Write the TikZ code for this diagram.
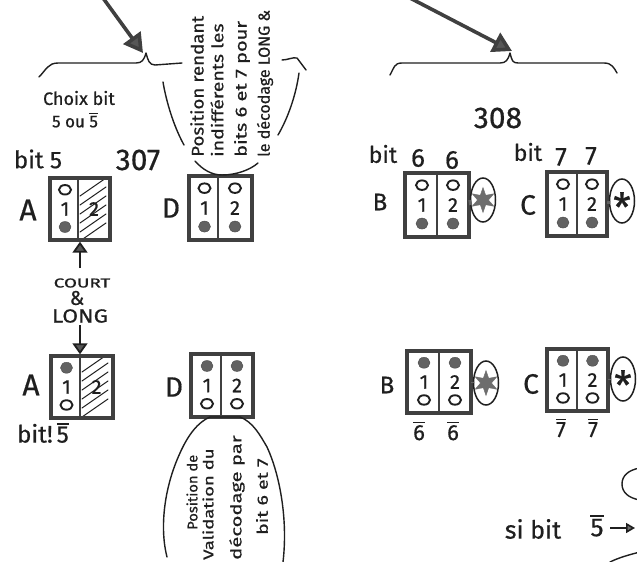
\documentclass[tikz,border=0pt]{standalone}
\usepackage{fontspec}
\setmainfont{Fira Sans}[FakeBold=0.6]
\usetikzlibrary{shapes.geometric,arrows.meta,calc}
\definecolor{ink}{gray}{0.12}
\newcommand\ovl[1]{\leavevmode\vbox{\hrule height 1.4pt \kern 2pt \hbox{#1}}}
\newif\ifhatched
\tikzset{
  x=1pt,y=-1pt,
  ink line/.style={draw=ink,line width=1.4pt,line cap=round,line join=round},
  hand/.style={text=ink,inner sep=0pt,font=\fontsize{#1}{#1}\selectfont},
  hand/.default=15,
  vtext/.style={text=ink,inner sep=0pt,rotate=90,anchor=west,font=\fontsize{#1}{#1}\selectfont},
  vtext/.default=15,
  swbox/.style={draw=ink!85,line width=3.4pt,inner sep=0pt},
  bigarrow/.style={draw=ink!85,line width=3.6pt,-{Triangle[length=19pt,width=21pt,fill=ink!75]}},
  oval/.style={ellipse,draw=ink,line width=1.5pt,inner sep=0pt,minimum width=25pt,minimum height=44pt},
  blob/.style={star,star points=6,star point ratio=2.3,fill=ink!65,draw=ink!65,inner sep=0pt,minimum size=25pt},
  openmark/.style={ellipse,draw=ink,line width=1.9pt,inner sep=0pt,minimum width=12pt,minimum height=9.5pt},
  fullmark/.style={ellipse,fill=ink!70,draw=ink!80,inner sep=0pt,minimum width=12pt,minimum height=11pt},
  hatchline/.style={draw=ink,line width=1pt,line cap=round},
}
% name, x1, y1, x2, y2, divider x, top mark style, bottom mark style
\newcommand\switchbox[8]{%
  \pgfmathsetmacro\ccx{(#2+#4)/2}\pgfmathsetmacro\ccy{(#3+#5)/2}%
  \pgfmathsetmacro\ww{#4-#2}\pgfmathsetmacro\hh{#5-#3}%
  \pgfmathsetmacro\colL{(#2+#6)/2+1}\pgfmathsetmacro\colR{(#6+#4)/2}%
  \pgfmathsetmacro\rowT{#3+0.19*\hh}\pgfmathsetmacro\rowB{#5-0.21*\hh}%
  \node[swbox,minimum width=\ww pt,minimum height=\hh pt] (#1) at (\ccx,\ccy) {};
  \draw[draw=ink!85,line width=2.6pt] (#6,#3) -- (#6,#5);
  \node[hand=20] (#1d1) at (\colL,\ccy) {1};
  \node[hand=20] (#1d2) at (\colR,\ccy) {2};
  \node[#7] (#1ta) at (\colL,\rowT) {};
  \node[#8] (#1ba) at (\colL,\rowB) {};
  \ifhatched\else
    \node[#7] (#1tb) at (\colR,\rowT) {};
    \node[#8] (#1bb) at (\colR,\rowB) {};
  \fi
}
\begin{document}
\begin{tikzpicture}
\useasboundingbox (0,0) rectangle (637,562);
\clip (0,0) rectangle (637,562);
\fill[white] (0,0) rectangle (637,562);

% hatching of the A boxes
\begin{scope}
\clip (79,179) rectangle (109,239);
\foreach \k in {0,...,5} {
  \draw[hatchline] (80,{196+\k*9}) -- (106,{178+\k*9});
}
\end{scope}
\begin{scope}
\clip (81,357) rectangle (112,416);
\foreach \k in {0,...,5} {
  \draw[hatchline] (82,{372+\k*9}) -- (108,{354+\k*9});
}
\end{scope}

% switch boxes
\hatchedtrue
\switchbox{At}{50}{178}{110}{240}{78}{openmark}{fullmark}
\switchbox{Ab}{51}{356}{113}{418}{80}{fullmark}{openmark}
\hatchedfalse
\switchbox{Dt}{189}{176}{252}{240}{218}{openmark}{fullmark}
\switchbox{Db}{191}{354}{253}{417}{221}{fullmark}{openmark}
\switchbox{Bt}{405}{173}{469}{237}{437}{openmark}{fullmark}
\switchbox{Ct}{547}{172}{607}{236}{577}{openmark}{fullmark}
\switchbox{Bb}{407}{351}{471}{413}{439}{fullmark}{openmark}
\switchbox{Cb}{547}{349}{608}{411}{577}{fullmark}{openmark}

% ovals with stars
\node[oval] (Btov) at (483,200) {};
\node[blob] (Btst) at (483,200) {};
\node[oval] (Ctov) at (622,201) {};
\node[hand=40] (Ctst) at (622,207) {*};
\node[oval] (Bbov) at (486,383) {};
\node[blob] (Bbst) at (486,383) {};
\node[oval] (Cbov) at (623,379) {};
\node[hand=40] (Cbst) at (623,385) {*};
\draw[draw=ink!70,line width=3pt] (Bt.east) -- (Btov.west);
\draw[draw=ink!70,line width=3pt] (Ct.east) -- (Ctov.west);
\draw[draw=ink!70,line width=3pt] (Bb.east) -- (Bbov.west);
\draw[draw=ink!70,line width=3pt] (Cb.east) -- (Cbov.west);

% braces and big arrows
\draw[ink line] (39,77) .. controls (46,70) and (48,63) .. (58,63) -- (136,63) .. controls (142,63) and (144,60) .. (146,53) .. controls (148,60) and (149,65) .. (155,65) -- (182,63);
\draw[ink line] (390,75) .. controls (394,68) and (394,63) .. (402,63) -- (500,63) .. controls (506,63) and (508,60) .. (510,53) .. controls (512,60) and (512,63) .. (518,63) -- (604,63) .. controls (612,63) and (614,68) .. (617,73);
\coordinate (a1s) at (103,-2); \coordinate (a1e) at (143,53);
\coordinate (a2s) at (410,-2); \coordinate (a2e) at (512,51);
\draw[bigarrow] (a1s) -- (a1e);
\draw[bigarrow] (a2s) -- (a2e);

% top shape around the "position" text
\draw[ink line] (163,82) .. controls (166,100) and (173,125) .. (184,145);
\draw[ink line] (195,161) .. controls (203,170) and (212,175) .. (222,175) .. controls (236,175) and (250,170) .. (258,163);
\draw[ink line] (278,135) .. controls (288,118) and (296,95) .. (299,73);
\draw[ink line] (282,60) .. controls (288,60) and (292,57) .. (297,58) .. controls (300,62) and (303,66) .. (306,70);

% bottom oval
\draw[ink line] (167,557) .. controls (160,530) and (163,490) .. (180,453) .. controls (188,435) and (198,422) .. (210,417) -- (240,417) .. controls (253,422) and (260,435) .. (267,447) .. controls (280,475) and (288,520) .. (283,562);

% small arrows
\coordinate (ct) at (80,268);
\draw[draw=ink,line width=1.8pt,-{Triangle[length=11pt,width=15pt,fill=ink!75]}] (ct) -- (At.south -| ct);
\coordinate (lb) at (80,325);
\draw[draw=ink,line width=1.8pt,-{Triangle[length=11pt,width=15pt,fill=ink!75]}] (lb) -- (Ab.north -| lb);
\coordinate (s5a) at (610,528); \coordinate (s5b) at (635,528);
\draw[draw=ink,line width=1.6pt,-{Triangle[length=9pt,width=10pt,fill=ink!65]}] (s5a) -- (s5b);

% partial shapes on the right edge
\draw[ink line] (640,468) .. controls (628,470) and (622,476) .. (622,484) .. controls (622,492) and (628,498) .. (640,500);
\draw[ink line] (610,562) .. controls (618,558) and (628,555) .. (640,552);

% labels left
\node[hand=18] (choix) at (79,98) {Choix bit};
\node[hand=17] (cinq) at (75,120) {5 ou \ovl{5}};
\node[hand=24] (bit5) at (38,159) {bit 5};
\node[hand=30] (n307) at (138,160) {307};
\node[hand=30] (lA1) at (28,210) {A};
\node[hand=28] (lD1) at (171,208) {D};
\node[hand=13] (court) at (82,283) {\scalebox{1.45}[1]{COURT}};
\node[hand=20] (et) at (77,298) {\&};
\node[hand=19] (long) at (80,316) {\scalebox{1.2}[1]{LONG}};
\node[hand=30] (lA2) at (31,385) {A};
\node[hand=28] (lD2) at (174,387) {D};
\node[hand=24] (bit5b) at (43,433) {bit!\,\ovl{5}};

% labels right
\node[hand=30] (n308) at (498,118) {308};
\node[hand=23] (bit6) at (383,154) {bit};
\node[hand=26] (six1) at (418,158) {6};
\node[hand=26] (six2) at (452,160) {6};
\node[hand=23] (bit7) at (528,152) {bit};
\node[hand=26] (sept1) at (561,157) {7};
\node[hand=26] (sept2) at (591,156) {7};
\node[hand=24] (lB1) at (380,202) {B};
\node[hand=28] (lC1) at (528,205) {C};
\node[hand=24] (lB2) at (387,385) {B};
\node[hand=28] (lC2) at (531,384) {C};
\node[hand=22] (ns1) at (419,431) {\ovl{6}};
\node[hand=22] (ns2) at (453,431) {\ovl{6}};
\node[hand=22] (ns3) at (561,428) {\ovl{7}};
\node[hand=22] (ns4) at (593,428) {\ovl{7}};
\node[hand=25] (sibit) at (533,529) {si bit};
\node[hand=26] (ns5) at (597,526) {\ovl{5}};

% rotated texts, top
\node[vtext=17] (p1) at (197,157) {\scalebox{1.1}[1]{Position rendant}};
\node[vtext=16] (p2) at (217,157) {\scalebox{1.22}[1]{indifférents les}};
\node[vtext=16] (p3) at (242,157) {\scalebox{1.25}[1]{bits 6 et 7 pour}};
\node[vtext=16] (p4) at (265,157) {\scalebox{1}[1]{le décodage LONG \&}};

% rotated texts, bottom
\node[vtext=14] (v1) at (192,530) {\scalebox{1.05}[1]{Position de}};
\node[vtext=14] (v2) at (208,560) {\scalebox{1.32}[1]{Validation du}};
\node[vtext=15] (v3) at (237,560) {\scalebox{1.35}[1]{décodage par}};
\node[vtext=15] (v4) at (262,535) {\scalebox{1.3}[1]{bit 6 et 7}};
\end{tikzpicture}
\end{document}
